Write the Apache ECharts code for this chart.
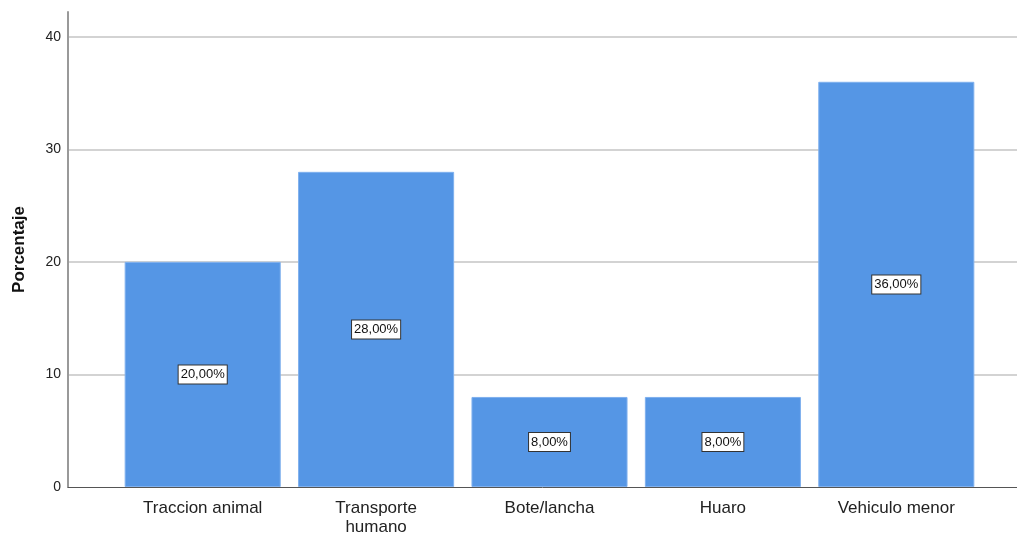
<!DOCTYPE html>
<html>
<head>
<meta charset="utf-8">
<script src="https://cdn.jsdelivr.net/npm/echarts@6/dist/echarts.min.js"></script>
<style>
  html, body { margin: 0; padding: 0; background: #fff; }
  #chart { width: 1017px; height: 533px; }
</style>
</head>
<body>
<div id="chart"></div>
<script>
const categories = ['Traccion animal', 'Transporte\nhumano', 'Bote/lancha', 'Huaro', 'Vehiculo menor'];
const values = [20, 28, 8, 8, 36];
const yTicks = [0, 10, 20, 30, 40];

const chart = echarts.init(document.getElementById('chart'), null, { renderer: 'canvas' });
const yMax = 42.2;
const font = 'Arial, "Liberation Sans", sans-serif';

const option = {
  animation: false,
  grid: [
    { left: 68, right: 0, top: 12, bottom: 46, containLabel: false, outerBoundsMode: 'none' },
    { left: 116, right: 34, top: 12, bottom: 46, containLabel: false, outerBoundsMode: 'none' }
  ],
  xAxis: [
    {
      gridIndex: 0, type: 'value', min: 0, max: 1,
      axisLine: { show: true, onZero: false, lineStyle: { color: '#555', width: 1 } },
      axisTick: { show: false }, axisLabel: { show: false }, splitLine: { show: false }
    },
    {
      gridIndex: 1, type: 'category', data: categories,
      axisLine: { show: false }, axisTick: { show: false },
      axisLabel: { color: '#222', fontSize: 17, fontFamily: font, margin: 12, lineHeight: 19, interval: 0 }
    }
  ],
  yAxis: [
    {
      gridIndex: 0, type: 'value', min: 0, max: yMax, interval: 10,
      axisLine: { show: true, lineStyle: { color: '#999', width: 2 } },
      axisTick: { show: false },
      axisLabel: {
        color: '#222', fontSize: 14, fontFamily: font, margin: 7, showMaxLabel: false,
        formatter: v => (yTicks.includes(v) ? String(v) : '')
      },
      splitLine: { show: true, showMinLine: false, showMaxLine: false, lineStyle: { color: '#d3d3d3', width: 2 } },
      name: 'Porcentaje', nameLocation: 'middle', nameGap: 40, nameRotate: 90,
      nameTextStyle: { color: '#111', fontSize: 17, fontWeight: 'bold', fontFamily: font }
    },
    {
      gridIndex: 1, type: 'value', min: 0, max: yMax, interval: 10,
      axisLine: { show: false }, axisTick: { show: false }, axisLabel: { show: false }, splitLine: { show: false }
    }
  ],
  series: [
    {
      type: 'bar', xAxisIndex: 1, yAxisIndex: 1, data: values,
      barCategoryGap: '10%',
      itemStyle: { color: '#5596e5', borderColor: '#7fb0ee', borderWidth: 1 },
      label: {
        show: true, position: 'inside',
        formatter: p => p.value.toFixed(2).replace('.', ',') + '%',
        color: '#111', fontSize: 13, fontFamily: font,
        backgroundColor: '#fff', borderColor: '#333', borderWidth: 1,
        padding: [3, 2, 2, 2]
      }
    }
  ]
};
chart.setOption(option);
</script>
</body>
</html>
